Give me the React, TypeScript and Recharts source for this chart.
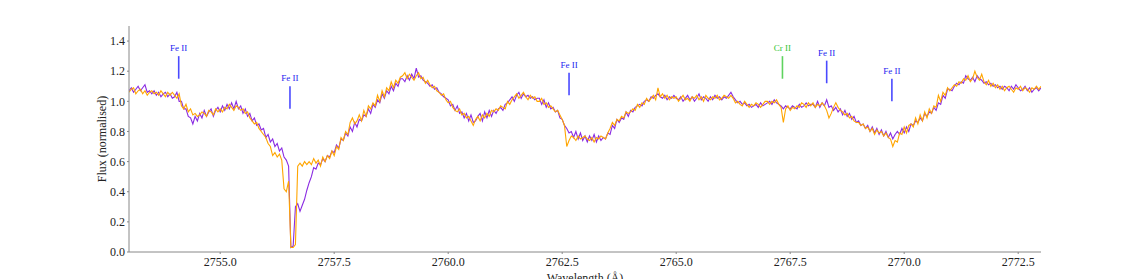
import React from 'react';
import { LineChart, Line, XAxis, YAxis, ReferenceLine } from 'recharts';

// spectrum sampled every 0.05 Å starting at 2753.00
const WAVE_START = 2753.0;
const WAVE_STEP = 0.05;

// purple spectrum (one row = 1 Å)
const fluxA = [
  1.07, 1.09, 1.06, 1.08, 1.10, 1.07, 1.09, 1.11, 1.06, 1.07, 1.05, 1.07, 1.04, 1.06, 1.03, 1.05, 1.06, 1.03, 1.05, 1.02,
  1.03, 1.06, 1.00, 1.00, 0.95, 0.95, 0.90, 0.89, 0.85, 0.90, 0.87, 0.92, 0.89, 0.94, 0.90, 0.93, 0.95, 0.90, 0.94, 0.96,
  0.93, 0.97, 0.94, 0.98, 0.95, 0.99, 0.95, 1.00, 0.95, 0.97, 0.92, 0.95, 0.90, 0.92, 0.87, 0.89, 0.84, 0.85, 0.81, 0.82,
  0.76, 0.78, 0.73, 0.75, 0.70, 0.72, 0.67, 0.69, 0.63, 0.61, 0.57, 0.03, 0.04, 0.30, 0.32, 0.27, 0.31, 0.35, 0.41, 0.46,
  0.50, 0.56, 0.55, 0.59, 0.58, 0.62, 0.60, 0.64, 0.63, 0.67, 0.66, 0.71, 0.69, 0.75, 0.74, 0.79, 0.77, 0.83, 0.80, 0.86,
  0.83, 0.88, 0.87, 0.91, 0.90, 0.95, 0.92, 0.98, 0.96, 1.01, 0.99, 1.05, 1.02, 1.07, 1.05, 1.10, 1.07, 1.12, 1.10, 1.15,
  1.15, 1.13, 1.17, 1.14, 1.18, 1.15, 1.22, 1.16, 1.17, 1.14, 1.13, 1.12, 1.10, 1.11, 1.08, 1.09, 1.06, 1.05, 1.03, 1.02,
  1.01, 0.97, 0.98, 0.94, 0.97, 0.92, 0.93, 0.89, 0.92, 0.87, 0.91, 0.86, 0.87, 0.90, 0.92, 0.87, 0.93, 0.89, 0.94, 0.90,
  0.94, 0.92, 0.95, 0.96, 0.94, 0.98, 0.99, 1.01, 1.03, 1.00, 1.04, 1.06, 1.02, 1.05, 1.03, 1.04, 1.02, 1.03, 1.01, 1.02,
  1.02, 0.98, 1.01, 0.96, 0.99, 0.95, 0.96, 0.93, 0.94, 0.89, 0.88, 0.84, 0.82, 0.79, 0.80, 0.76, 0.80, 0.75, 0.79, 0.74,
  0.77, 0.73, 0.77, 0.74, 0.78, 0.73, 0.77, 0.74, 0.76, 0.75, 0.79, 0.78, 0.84, 0.82, 0.88, 0.86, 0.89, 0.88, 0.93, 0.90,
  0.94, 0.93, 0.96, 0.97, 0.98, 0.97, 1.00, 1.01, 1.00, 1.03, 1.02, 1.04, 1.05, 1.03, 1.02, 1.04, 1.01, 1.03, 1.02, 1.04,
  1.02, 1.01, 1.03, 1.00, 1.02, 1.04, 1.01, 1.03, 1.00, 1.02, 1.05, 1.01, 1.03, 1.02, 1.00, 1.03, 1.01, 1.04, 1.02, 1.03,
  1.01, 1.03, 1.02, 1.04, 1.06, 1.03, 1.01, 0.99, 1.00, 0.98, 0.99, 0.97, 0.98, 0.96, 0.97, 0.98, 0.96, 0.99, 0.97, 0.98,
  0.99, 1.00, 0.98, 1.01, 0.99, 0.98, 0.97, 0.95, 0.97, 0.96, 0.95, 0.97, 0.96, 0.95, 0.98, 0.96, 0.97, 0.99, 0.97, 0.98,
  0.98, 0.96, 1.00, 0.96, 0.99, 0.97, 1.01, 0.96, 0.97, 0.94, 0.96, 0.93, 0.95, 0.91, 0.94, 0.90, 0.92, 0.88, 0.90, 0.86,
  0.87, 0.84, 0.85, 0.82, 0.84, 0.80, 0.83, 0.79, 0.82, 0.78, 0.81, 0.77, 0.80, 0.76, 0.79, 0.75, 0.78, 0.80, 0.78, 0.82,
  0.79, 0.83, 0.80, 0.85, 0.84, 0.87, 0.86, 0.89, 0.87, 0.92, 0.90, 0.93, 0.92, 0.96, 0.94, 0.99, 0.98, 1.04, 1.02, 1.08,
  1.08, 1.07, 1.10, 1.12, 1.11, 1.13, 1.12, 1.17, 1.15, 1.14, 1.16, 1.13, 1.17, 1.15, 1.14, 1.12, 1.13, 1.11, 1.12, 1.10,
  1.11, 1.09, 1.10, 1.08, 1.10, 1.09, 1.07, 1.10, 1.08, 1.11, 1.09, 1.07, 1.08, 1.10, 1.07, 1.09, 1.06, 1.08, 1.09, 1.07,
  1.09,
];

// orange spectrum
const fluxB = [
  1.06, 1.08, 1.09, 1.05, 1.07, 1.08, 1.05, 1.07, 1.04, 1.06, 1.07, 1.05, 1.06, 1.04, 1.07, 1.05, 1.03, 1.06, 1.04, 1.06,
  1.04, 1.02, 1.05, 0.97, 0.95, 0.98, 0.93, 0.95, 0.91, 0.92, 0.90, 0.91, 0.93, 0.92, 0.90, 0.94, 0.93, 0.91, 0.95, 0.93,
  0.95, 0.93, 0.96, 0.95, 0.98, 0.96, 0.94, 0.97, 0.96, 0.94, 0.95, 0.92, 0.93, 0.89, 0.87, 0.85, 0.86, 0.82, 0.80, 0.78,
  0.76, 0.72, 0.70, 0.64, 0.66, 0.63, 0.65, 0.61, 0.42, 0.40, 0.47, 0.03, 0.03, 0.05, 0.57, 0.59, 0.57, 0.60, 0.58, 0.60,
  0.58, 0.62, 0.59, 0.61, 0.57, 0.63, 0.60, 0.64, 0.62, 0.67, 0.64, 0.70, 0.68, 0.76, 0.74, 0.80, 0.78, 0.86, 0.89, 0.85,
  0.87, 0.91, 0.87, 0.94, 0.90, 0.97, 0.95, 0.99, 0.97, 1.04, 1.00, 1.07, 1.03, 1.09, 1.07, 1.13, 1.09, 1.14, 1.12, 1.16,
  1.17, 1.19, 1.15, 1.18, 1.16, 1.14, 1.17, 1.19, 1.15, 1.16, 1.12, 1.14, 1.11, 1.09, 1.10, 1.07, 1.06, 1.04, 1.05, 1.01,
  0.99, 1.00, 0.96, 0.94, 0.93, 0.95, 0.91, 0.92, 0.89, 0.90, 0.87, 0.84, 0.88, 0.90, 0.87, 0.91, 0.89, 0.92, 0.90, 0.94,
  0.93, 0.95, 0.94, 0.97, 0.96, 0.95, 1.00, 0.98, 1.01, 1.03, 1.05, 1.02, 1.04, 1.06, 1.03, 1.01, 1.04, 1.02, 1.03, 1.00,
  1.00, 1.02, 0.98, 0.99, 0.96, 0.97, 0.95, 0.93, 0.94, 0.91, 0.88, 0.84, 0.70, 0.74, 0.77, 0.76, 0.74, 0.77, 0.75, 0.76,
  0.77, 0.75, 0.74, 0.76, 0.73, 0.76, 0.75, 0.77, 0.76, 0.75, 0.79, 0.82, 0.86, 0.84, 0.88, 0.87, 0.90, 0.89, 0.93, 0.92,
  0.93, 0.95, 0.94, 0.98, 0.96, 0.99, 0.98, 1.02, 1.00, 1.02, 1.04, 1.01, 1.09, 1.03, 1.05, 1.02, 1.04, 1.01, 1.03, 1.02,
  1.03, 1.00, 1.02, 1.04, 1.01, 1.02, 1.00, 1.03, 1.02, 1.04, 1.01, 1.03, 1.00, 1.04, 1.02, 1.01, 1.03, 1.02, 1.04, 1.01,
  1.02, 1.04, 1.03, 1.02, 1.04, 1.02, 0.99, 1.00, 0.98, 0.97, 1.00, 0.98, 0.96, 0.98, 0.97, 0.99, 0.98, 0.96, 0.98, 1.00,
  1.00, 0.98, 1.00, 0.99, 1.01, 0.98, 0.96, 0.86, 0.95, 0.97, 0.94, 0.96, 0.95, 0.97, 0.96, 0.99, 0.98, 0.96, 0.99, 0.97,
  0.99, 0.96, 0.98, 0.97, 0.99, 0.97, 0.94, 0.89, 0.92, 0.96, 0.99, 0.96, 0.94, 0.93, 0.91, 0.92, 0.89, 0.90, 0.87, 0.86,
  0.86, 0.84, 0.85, 0.82, 0.83, 0.80, 0.82, 0.78, 0.81, 0.79, 0.80, 0.77, 0.79, 0.76, 0.75, 0.70, 0.74, 0.73, 0.79, 0.78,
  0.83, 0.79, 0.84, 0.85, 0.83, 0.89, 0.85, 0.91, 0.87, 0.93, 0.89, 0.95, 0.92, 0.97, 0.96, 1.04, 1.00, 1.06, 1.04, 1.09,
  1.07, 1.09, 1.11, 1.10, 1.13, 1.12, 1.15, 1.14, 1.17, 1.13, 1.15, 1.20, 1.16, 1.14, 1.18, 1.13, 1.11, 1.14, 1.10, 1.12,
  1.09, 1.11, 1.08, 1.10, 1.07, 1.09, 1.10, 1.08, 1.06, 1.09, 1.08, 1.10, 1.07, 1.09, 1.08, 1.06, 1.09, 1.08, 1.10, 1.08,
  1.10,
];

const xTicks = [2755, 2757.5, 2760, 2762.5, 2765, 2767.5, 2770, 2772.5];
const yTicks = [0, 0.2, 0.4, 0.6, 0.8, 1.0, 1.2, 1.4];

// line identifications: wavelength, flux at bottom of marker
const lineIds = ['Fe II', 'Fe II', 'Fe II', 'Cr II', 'Fe II', 'Fe II'];
const lineWaves = [2754.09, 2756.53, 2762.65, 2767.33, 2768.3, 2769.73];
const lineBase = [1.15, 0.95, 1.04, 1.15, 1.12, 1.0];
const MARK_LEN = 0.15;

const FONT = '"Liberation Serif", "Times New Roman", serif';

const data = fluxA.map((a, i) => ({
  w: +(WAVE_START + i * WAVE_STEP).toFixed(2),
  a,
  b: fluxB[i],
}));

export default function App() {
  return (
    <div style={{ position: 'absolute', left: 0, top: 0, background: '#fff' }}>
      <LineChart width={1140} height={279} data={data} margin={{ top: 26, right: 99, left: 0, bottom: 0 }}>
        <XAxis
          dataKey="w"
          type="number"
          domain={[2753, 2773]}
          ticks={xTicks}
          allowDataOverflow
          tickFormatter={(v: number) => v.toFixed(1)}
          height={27}
          stroke="#888"
          tickSize={2}
          tickMargin={3}
          tick={{ fill: '#222', fontSize: 12, fontFamily: FONT }}
          label={{ value: 'Wavelength (Å)', position: 'insideBottom', offset: -3, fill: '#222', fontSize: 12, fontFamily: FONT }}
        />
        <XAxis xAxisId="top" orientation="top" dataKey="w" type="number" domain={[2753, 2773]} height={0} tick={false} tickLine={false} stroke="#888" />
        <YAxis
          domain={[0, 1.5]}
          ticks={yTicks}
          allowDataOverflow
          tickFormatter={(v: number) => v.toFixed(1)}
          width={129}
          stroke="#888"
          tickSize={2}
          tickMargin={2}
          tick={{ fill: '#222', fontSize: 12, fontFamily: FONT }}
          label={{ value: 'Flux (normalised)', angle: -90, position: 'center', dx: 37, fill: '#222', fontSize: 12, fontFamily: FONT }}
        />
        <YAxis yAxisId="right" orientation="right" domain={[0, 1.5]} width={0} tick={false} tickLine={false} stroke="#888" />
        <Line dataKey="a" stroke="#8a2be2" strokeWidth={1.1} dot={false} isAnimationActive={false} />
        <Line dataKey="b" stroke="#ffa500" strokeWidth={1.1} dot={false} isAnimationActive={false} />
        {lineWaves.map((w, i) => {
          const cr = lineIds[i] === 'Cr II';
          return (
            <ReferenceLine
              key={i}
              segment={[{ x: w, y: lineBase[i] }, { x: w, y: lineBase[i] + MARK_LEN }]}
              stroke={cr ? '#5fd35f' : '#4a4aff'}
              strokeWidth={1.6}
              label={{ value: lineIds[i], position: 'top', offset: 5, fill: cr ? '#2fc42f' : '#2323f0', fontSize: 9, fontFamily: FONT }}
            />
          );
        })}
      </LineChart>
    </div>
  );
}
